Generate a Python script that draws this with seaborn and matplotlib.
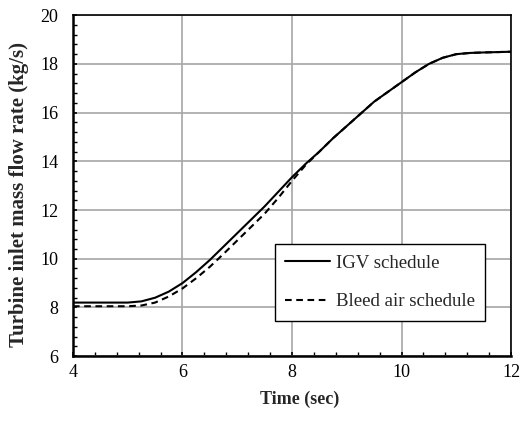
import matplotlib
matplotlib.use("Agg")
import matplotlib.pyplot as plt
from matplotlib.ticker import MultipleLocator
import seaborn as sns
import pandas as pd

# Time samples (s) and turbine inlet mass flow (kg/s) for the two control schedules
time_sec = [4.0, 4.5, 5.0, 5.25, 5.5, 5.75, 6.0, 6.25, 6.5, 6.75, 7.0, 7.25, 7.5,
            7.75, 8.0, 8.25, 8.5, 8.75, 9.0, 9.25, 9.5, 9.75, 10.0, 10.25, 10.5,
            10.75, 11.0, 11.25, 11.5, 12.0]
igv_flow = [8.2, 8.2, 8.2, 8.25, 8.4, 8.65, 9.0, 9.45, 9.95, 10.5, 11.05, 11.6, 12.15,
            12.75, 13.35, 13.9, 14.4, 14.95, 15.45, 15.95, 16.45, 16.85, 17.25, 17.65, 18.0,
            18.25, 18.4, 18.45, 18.47, 18.5]
bleed_flow = [8.05, 8.05, 8.05, 8.08, 8.2, 8.45, 8.78, 9.2, 9.67, 10.2, 10.75, 11.3, 11.85,
              12.5, 13.2, 13.85, 14.4, 14.95, 15.45, 15.95, 16.45, 16.85, 17.25, 17.65, 18.0,
              18.25, 18.4, 18.45, 18.47, 18.5]

series_names = ["IGV schedule", "Bleed air schedule"]

df = pd.concat([
    pd.DataFrame({"time": time_sec, "flow": igv_flow, "case": series_names[0]}),
    pd.DataFrame({"time": time_sec, "flow": bleed_flow, "case": series_names[1]}),
])

sns.set_style("white")
plt.rcParams["font.family"] = ["Liberation Serif", "DejaVu Serif"]

fig = plt.figure(figsize=(5.21, 4.22), dpi=100)
ax = fig.add_axes([0.140, 0.156, 0.841, 0.808])

sns.lineplot(data=df, x="time", y="flow", style="case", style_order=series_names,
             dashes={series_names[0]: "", series_names[1]: (3.2, 2.2)},
             color="black", linewidth=1.5, ax=ax, legend=True)

ax.set_xlim(4, 12)
ax.set_ylim(6, 20)
ax.xaxis.set_major_locator(MultipleLocator(2))
ax.yaxis.set_major_locator(MultipleLocator(2))
ax.xaxis.set_minor_locator(MultipleLocator(0.4))
ax.yaxis.set_minor_locator(MultipleLocator(0.4))
ax.grid(True, which="major", color="#a6a6a6", linewidth=1.2)
ax.set_axisbelow(True)

ax.tick_params(axis="both", which="both", direction="in", left=True, bottom=True,
               top=False, right=False, labelsize=13, colors="black")
ax.tick_params(which="major", length=3, width=1.2)
ax.tick_params(which="minor", length=3, width=1.0)
ax.tick_params(axis="y", which="major", pad=10.5)
ax.tick_params(axis="x", which="major", pad=5.5)

for side in ["left", "bottom"]:
    ax.spines[side].set_linewidth(1.8)
    ax.spines[side].set_color("black")
for side in ["top", "right"]:
    ax.spines[side].set_linewidth(1.2)
    ax.spines[side].set_color("black")

ax.set_xlabel("Time (sec)", fontsize=13, fontweight="bold", labelpad=7)
ax.set_ylabel("Turbine inlet mass flow rate (kg/s)", fontsize=15, fontweight="bold", labelpad=8)
ax.xaxis.label.set_x(0.517)
ax.yaxis.label.set_y(0.474)

leg = ax.legend(loc="lower right", bbox_to_anchor=(0.9413, 0.1035), borderaxespad=0,
                frameon=True, fancybox=False, edgecolor="black", fontsize=13.6,
                handlelength=2.4, labelspacing=1.12, borderpad=0.55, handletextpad=0.3)
leg.get_frame().set_linewidth(1.0)
leg.get_frame().set_facecolor("white")
leg.get_frame().set_alpha(1)

fig.savefig("out.png", dpi=100)
